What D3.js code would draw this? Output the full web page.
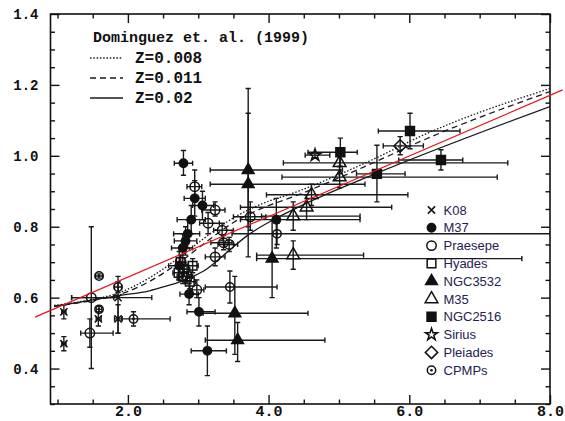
<!DOCTYPE html>
<html>
<head>
<script src="https://cdn.jsdelivr.net/npm/d3@7"></script>
<style>
  body { margin: 0; background: #fff; }
  .axis text { font-family: "Liberation Mono", monospace; font-weight: bold; fill: #111; }
  .axis path, .axis line { stroke: #111; stroke-width: 1.4; }
  .mono { font-family: "Liberation Mono", monospace; font-weight: bold; fill: #111; }
  .legend { font-family: "Liberation Sans", Arial, sans-serif; font-size: 13px; fill: #1f2150; }
</style>
</head>
<body>
<div id="chart"></div>
<script>
// each point: [x, y, xLow, xHigh, yLow, yHigh]
var k08 = [
  [1.09, 0.56, 1.06, 1.12, 0.54, 0.58],
  [1.09, 0.47, 1.06, 1.12, 0.45, 0.49],
  [1.58, 0.54, 1.55, 1.62, 0.52, 0.56],
  [1.86, 0.60, 1.20, 2.34, 0.50, 0.66],
  [1.86, 0.54, 1.81, 1.91, 0.50, 0.58]
];
var m37 = [
  [2.79, 0.979, 2.66, 2.92, 0.945, 1.015],
  [2.95, 0.88, 2.80, 3.10, 0.83, 0.93],
  [3.06, 0.86, 2.92, 3.22, 0.82, 0.90],
  [2.90, 0.82, 2.70, 3.10, 0.78, 0.86],
  [2.85, 0.78, 2.65, 3.02, 0.74, 0.82],
  [2.82, 0.76, 2.66, 2.98, 0.72, 0.80],
  [2.78, 0.74, 2.62, 2.92, 0.70, 0.78],
  [2.73, 0.69, 2.58, 2.86, 0.65, 0.73],
  [2.87, 0.61, 2.74, 3.00, 0.58, 0.64],
  [3.01, 0.56, 2.84, 3.24, 0.52, 0.60],
  [3.13, 0.45, 2.90, 3.40, 0.38, 0.52],
  [4.11, 0.82, 3.60, 5.30, 0.74, 0.88]
];
var praesepe = [
  [1.48, 0.60, 1.20, 1.80, 0.40, 0.80],
  [1.46, 0.50, 1.33, 1.79, 0.46, 0.54],
  [2.95, 0.913, 2.84, 3.05, 0.87, 0.96],
  [3.24, 0.847, 3.05, 3.38, 0.83, 0.87],
  [3.14, 0.81, 3.02, 3.30, 0.78, 0.84],
  [3.34, 0.79, 3.22, 3.50, 0.76, 0.81],
  [3.36, 0.755, 3.18, 3.48, 0.735, 0.775],
  [3.44, 0.75, 3.28, 3.56, 0.73, 0.77],
  [3.24, 0.715, 3.10, 3.38, 0.69, 0.74],
  [2.98, 0.622, 2.88, 3.08, 0.60, 0.65],
  [3.74, 0.828, 3.50, 3.96, 0.79, 0.87]
];
var hyades = [
  [2.75, 0.70, 2.68, 2.82, 0.68, 0.72],
  [2.80, 0.68, 2.72, 2.88, 0.66, 0.70],
  [2.84, 0.66, 2.76, 2.92, 0.64, 0.68],
  [2.88, 0.645, 2.80, 2.96, 0.625, 0.665],
  [2.78, 0.66, 2.70, 2.86, 0.64, 0.68],
  [2.92, 0.69, 2.84, 3.00, 0.67, 0.71],
  [2.72, 0.67, 2.64, 2.80, 0.65, 0.69]
];
var ngc3532 = [
  [3.71, 0.96, 3.17, 5.05, 0.80, 1.12],
  [3.71, 0.92, 3.17, 5.37, 0.715, 1.19],
  [3.52, 0.556, 3.07, 4.56, 0.44, 0.66],
  [3.56, 0.48, 3.10, 4.80, 0.42, 0.53],
  [4.05, 0.71, 3.83, 7.60, 0.60, 0.82]
];
var m35 = [
  [4.35, 0.72, 3.83, 5.35, 0.68, 0.76],
  [4.35, 0.83, 3.90, 5.30, 0.79, 0.87],
  [4.54, 0.855, 3.60, 5.75, 0.82, 0.89],
  [4.61, 0.89, 3.97, 5.98, 0.86, 0.92],
  [5.01, 0.94, 4.19, 7.25, 0.91, 0.97],
  [5.01, 0.98, 4.21, 7.40, 0.95, 1.01]
];
var ngc2516 = [
  [5.02, 1.01, 4.56, 5.26, 0.97, 1.05],
  [5.54, 0.949, 5.25, 5.94, 0.87, 1.03],
  [6.01, 1.07, 5.56, 6.72, 1.02, 1.12],
  [6.45, 0.988, 5.85, 6.76, 0.96, 1.017]
];
var sirius = [
  [4.66, 1.002, 4.52, 4.87, 0.995, 1.009]
];
var pleiades = [
  [5.87, 1.028, 5.63, 6.20, 1.003, 1.054]
];
var cpmps = [
  [1.59, 0.661, 1.54, 1.64, 0.655, 0.667],
  [1.59, 0.567, 1.55, 1.63, 0.56, 0.575],
  [1.86, 0.63, 1.81, 1.91, 0.615, 0.645],
  [2.08, 0.54, 1.92, 2.60, 0.52, 0.56],
  [3.45, 0.63, 3.10, 4.12, 0.585, 0.675],
  [4.12, 0.78, 3.48, 8.00, 0.75, 0.81]
];

// Dominguez et al. (1999) models
var modelX = [0.95, 1.50, 1.85, 2.30, 2.72, 3.10, 3.50, 3.85, 4.42, 5.54, 6.15, 8.00];
var z008Y  = [0.578, 0.595, 0.612, 0.655, 0.712, 0.770, 0.825, 0.860, 0.900, 0.995, 1.054, 1.190];
var z011Y  = [0.576, 0.592, 0.607, 0.645, 0.698, 0.755, 0.812, 0.847, 0.890, 0.985, 1.040, 1.181];
var z02X   = [0.95, 1.46, 1.85, 2.32, 2.53, 2.72, 2.95, 3.10, 3.41, 3.71, 4.07, 4.45, 5.54, 8.00];
var z02Y   = [0.575, 0.592, 0.605, 0.620, 0.632, 0.643, 0.662, 0.678, 0.728, 0.777, 0.820, 0.858, 0.951, 1.139];

// red fit line
var fitX = [0.68, 8.18];
var fitY = [0.545, 1.186];

var xMajor = [2, 4, 6, 8];
var yMajor = [0.4, 0.6, 0.8, 1.0, 1.2, 1.4];
var modelLabels = ['Z=0.008', 'Z=0.011', 'Z=0.02'];
var seriesNames = ['K08', 'M37', 'Praesepe', 'Hyades', 'NGC3532', 'M35', 'NGC2516', 'Sirius', 'Pleiades', 'CPMPs'];

(function (d3) {
  'use strict';
  var width = 565, height = 421;
  var x = d3.scaleLinear().domain([0.9, 8.0]).range([50.5, 550]);
  var y = d3.scaleLinear().domain([0.3, 1.4]).range([404, 14]);

  var svg = d3.select('#chart').append('svg')
    .attr('width', width).attr('height', height)
    .style('display', 'block');

  svg.append('defs').append('clipPath').attr('id', 'plot')
    .append('rect').attr('x', 50.5).attr('y', 14).attr('width', 499.5).attr('height', 390);

  // axes, ticks inward
  var xMinor = d3.range(1, 8.01, 0.5).filter(function (v) { return xMajor.indexOf(v) < 0; });
  var yMinor = d3.range(0.3, 1.401, 0.05).map(function (v) { return +v.toFixed(2); })
    .filter(function (v) { return yMajor.indexOf(v) < 0; });

  function axisGroup(axis, tx, ty) {
    var g = svg.append('g').attr('class', 'axis').attr('transform', 'translate(' + tx + ',' + ty + ')').call(axis);
    g.select('.domain').remove();
    return g;
  }
  var bx = axisGroup(d3.axisBottom(x).tickValues(xMajor).tickSize(-9).tickPadding(1).tickFormat(d3.format('.1f')), 0, 404);
  bx.selectAll('text').style('font-size', '15px');
  axisGroup(d3.axisBottom(x).tickValues(xMinor).tickSize(-4.5).tickFormat(''), 0, 404);
  axisGroup(d3.axisTop(x).tickValues(xMajor).tickSize(-9).tickFormat(''), 0, 14);
  axisGroup(d3.axisTop(x).tickValues(xMinor).tickSize(-4.5).tickFormat(''), 0, 14);
  var ly = axisGroup(d3.axisLeft(y).tickValues(yMajor).tickSize(-9).tickPadding(12).tickFormat(d3.format('.1f')), 50.5, 0);
  ly.selectAll('text').style('font-size', '14px');
  axisGroup(d3.axisLeft(y).tickValues(yMinor).tickSize(-4.5).tickFormat(''), 50.5, 0);
  axisGroup(d3.axisRight(y).tickValues(yMajor).tickSize(-9).tickFormat(''), 550, 0);
  axisGroup(d3.axisRight(y).tickValues(yMinor).tickSize(-4.5).tickFormat(''), 550, 0);

  svg.append('rect').attr('x', 50.5).attr('y', 14).attr('width', 499.5).attr('height', 390)
    .attr('fill', 'none').attr('stroke', '#111').attr('stroke-width', 1.6);

  var plot = svg.append('g').attr('clip-path', 'url(#plot)');

  // model curves
  var line = d3.line().x(function (d) { return x(d[0]); }).y(function (d) { return y(d[1]); })
    .curve(d3.curveMonotoneX);
  var models = [
    { xs: modelX, ys: z008Y, dash: '1.5,1.8' },
    { xs: modelX, ys: z011Y, dash: '6,4' },
    { xs: z02X, ys: z02Y, dash: null }
  ];
  models.forEach(function (m) {
    plot.append('path')
      .attr('d', line(d3.zip(m.xs, m.ys)))
      .attr('fill', 'none').attr('stroke', '#1a1a1a').attr('stroke-width', 1.3)
      .attr('stroke-dasharray', m.dash);
  });

  // symbols
  function timesPath(r) { return 'M' + -r + ',' + -r + 'L' + r + ',' + r + 'M' + -r + ',' + r + 'L' + r + ',' + -r; }
  function diamondPath(r) { return 'M0,' + -r + 'L' + r + ',0L0,' + r + 'L' + -r + ',0Z'; }
  var symbols = {
    K08:      { d: timesPath(3.6), fill: 'none' },
    M37:      { d: d3.symbol(d3.symbolCircle, 55)(), fill: '#111' },
    Praesepe: { d: d3.symbol(d3.symbolCircle, 70)(), fill: 'none' },
    Hyades:   { d: d3.symbol(d3.symbolSquare, 75)(), fill: 'none' },
    NGC3532:  { d: d3.symbol(d3.symbolTriangle, 60)(), fill: '#111' },
    M35:      { d: d3.symbol(d3.symbolTriangle, 70)(), fill: 'none' },
    NGC2516:  { d: d3.symbol(d3.symbolSquare, 80)(), fill: '#111' },
    Sirius:   { d: d3.symbol(d3.symbolStar, 45)(), fill: 'none' },
    Pleiades: { d: diamondPath(6.2), fill: 'none' },
    CPMPs:    { d: d3.symbol(d3.symbolCircle, 55)(), fill: 'none', dot: true }
  };
  var seriesData = {
    K08: k08, M37: m37, Praesepe: praesepe, Hyades: hyades, NGC3532: ngc3532,
    M35: m35, NGC2516: ngc2516, Sirius: sirius, Pleiades: pleiades, CPMPs: cpmps
  };

  function drawMarker(g, name) {
    var s = symbols[name];
    g.append('path').attr('d', s.d).attr('fill', s.fill)
      .attr('stroke', '#111').attr('stroke-width', 1.5);
    if (s.dot) g.append('circle').attr('r', 1.3).attr('fill', '#111');
  }

  // error bars
  var cap = 2.6;
  seriesNames.forEach(function (name) {
    var g = plot.append('g').attr('stroke', '#1a1a1a').attr('stroke-width', 1.4).attr('fill', 'none');
    seriesData[name].forEach(function (p) {
      var cx = x(p[0]), cy = y(p[1]);
      var x0 = x(p[2]), x1 = x(p[3]), y0 = y(p[4]), y1 = y(p[5]);
      g.append('path').attr('d',
        'M' + x0 + ',' + cy + 'H' + x1 +
        'M' + x0 + ',' + (cy - cap) + 'V' + (cy + cap) +
        'M' + x1 + ',' + (cy - cap) + 'V' + (cy + cap) +
        'M' + cx + ',' + y0 + 'V' + y1 +
        'M' + (cx - cap) + ',' + y0 + 'H' + (cx + cap) +
        'M' + (cx - cap) + ',' + y1 + 'H' + (cx + cap));
    });
  });

  // markers
  seriesNames.forEach(function (name) {
    plot.append('g').selectAll('g')
      .data(seriesData[name]).enter().append('g')
      .attr('transform', function (p) { return 'translate(' + x(p[0]) + ',' + y(p[1]) + ')'; })
      .each(function () { drawMarker(d3.select(this), name); });
  });

  // red fit line (runs past the frame)
  svg.append('path')
    .attr('d', d3.line().x(function (d) { return x(d[0]); }).y(function (d) { return y(d[1]); })(d3.zip(fitX, fitY)))
    .attr('stroke', '#e4141e').attr('stroke-width', 1.2).attr('fill', 'none');

  // model legend
  svg.append('text').attr('class', 'mono').attr('x', 93).attr('y', 42)
    .style('font-size', '15px').text('Dominguez et. al. (1999)');
  models.forEach(function (m, i) {
    var ly = 58 + i * 20;
    svg.append('line').attr('x1', 90).attr('x2', 123).attr('y1', ly).attr('y2', ly)
      .attr('stroke', '#1a1a1a').attr('stroke-width', 1.3).attr('stroke-dasharray', m.dash);
    svg.append('text').attr('class', 'mono').attr('x', 135).attr('y', ly + 5)
      .style('font-size', '16px').text(modelLabels[i]);
  });

  // symbol legend
  var legend = svg.selectAll('.legend')
    .data(seriesNames).enter().append('g')
    .attr('transform', function (d, i) { return 'translate(431.5,' + (210 + i * 17.8) + ')'; });
  legend.each(function (d) { drawMarker(d3.select(this), d); });
  legend.append('text').attr('class', 'legend').attr('x', 12).attr('y', 4.5).text(function (d) { return d; });
})(window.d3);
</script>
</body>
</html>
